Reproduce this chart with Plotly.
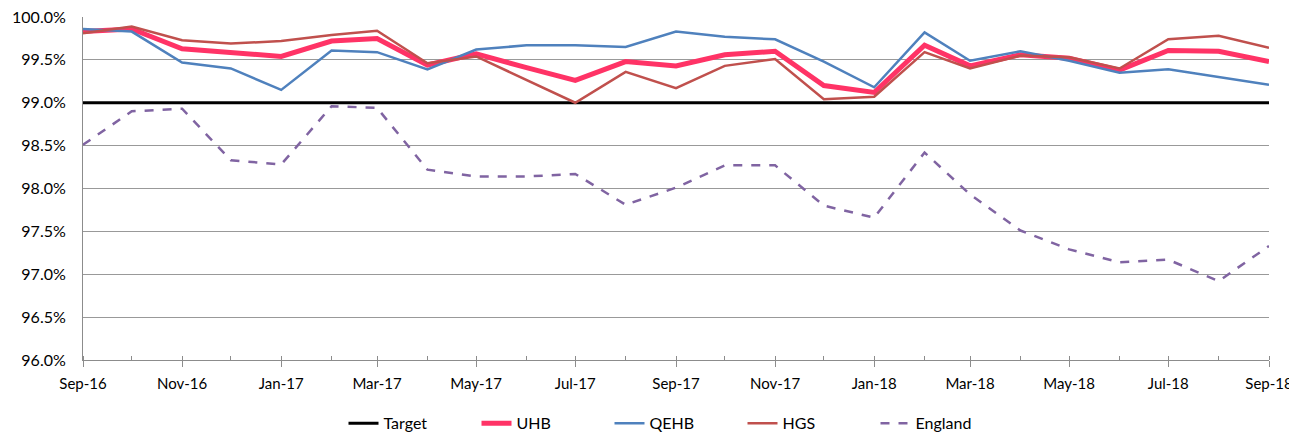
import plotly.graph_objects as go
import pandas as pd

months = ["Sep-16", "Oct-16", "Nov-16", "Dec-16", "Jan-17", "Feb-17", "Mar-17", "Apr-17",
          "May-17", "Jun-17", "Jul-17", "Aug-17", "Sep-17", "Oct-17", "Nov-17", "Dec-17",
          "Jan-18", "Feb-18", "Mar-18", "Apr-18", "May-18", "Jun-18", "Jul-18", "Aug-18", "Sep-18"]

target = [99.0] * len(months)
uhb = [99.83, 99.86, 99.63, 99.59, 99.54, 99.72, 99.75, 99.44, 99.57, 99.41, 99.26, 99.48,
       99.43, 99.56, 99.60, 99.20, 99.12, 99.67, 99.43, 99.56, 99.52, 99.38, 99.61, 99.60, 99.48]
qehb = [99.86, 99.83, 99.47, 99.40, 99.15, 99.61, 99.59, 99.39, 99.62, 99.67, 99.67, 99.65,
        99.83, 99.77, 99.74, 99.48, 99.18, 99.82, 99.49, 99.60, 99.49, 99.35, 99.39, 99.30, 99.21]
hgs = [99.81, 99.89, 99.73, 99.69, 99.72, 99.79, 99.84, 99.46, 99.54, 99.27, 99.00, 99.36,
       99.17, 99.43, 99.51, 99.04, 99.07, 99.59, 99.40, 99.55, 99.53, 99.40, 99.74, 99.78, 99.64]
england = [98.51, 98.90, 98.93, 98.33, 98.28, 98.96, 98.94, 98.22, 98.14, 98.14, 98.17, 97.81,
           98.01, 98.27, 98.27, 97.80, 97.66, 98.42, 97.93, 97.51, 97.29, 97.14, 97.17, 96.92, 97.33]

x = pd.to_datetime(months, format="%b-%y")

FONT = "Lato, 'Liberation Sans', sans-serif"

fig = go.Figure()
fig.add_trace(go.Scatter(x=x, y=target, name="Target", mode="lines",
                         line=dict(color="#000000", width=3)))
fig.add_trace(go.Scatter(x=x, y=uhb, name="UHB", mode="lines",
                         line=dict(color="#FF3366", width=5)))
fig.add_trace(go.Scatter(x=x, y=qehb, name="QEHB", mode="lines",
                         line=dict(color="#4F81BD", width=2.5)))
fig.add_trace(go.Scatter(x=x, y=hgs, name="HGS", mode="lines",
                         line=dict(color="#C0504D", width=2.5)))
fig.add_trace(go.Scatter(x=x, y=england, name="England", mode="lines",
                         line=dict(color="#8064A2", width=2.5, dash="dash")))

fig.update_layout(
    width=1289, height=427,
    margin=dict(l=75, r=28, t=9, b=75, autoexpand=False),
    paper_bgcolor="white", plot_bgcolor="white",
    font=dict(family=FONT, size=16, color="#000000"),
    showlegend=True,
    legend=dict(orientation="h", x=0.5, xanchor="center", y=-0.135, yanchor="top",
                font=dict(size=16), entrywidth=88, entrywidthmode="pixels",
                tracegroupgap=0),
    xaxis=dict(
        range=[x[0], x[-1]], automargin=False, ticklabeloverflow="allow",
        tickmode="linear", tick0=x[0], dtick="M2", tickformat="%b-%y",
        ticks="outside", ticklen=6, tickcolor="#8c8c8c", tickwidth=1,
        ticklabelstandoff=4,
        minor=dict(dtick="M1", ticks="inside", ticklen=4, tickcolor="#8c8c8c", showgrid=False),
        showline=True, linecolor="#8c8c8c", linewidth=1,
        showgrid=False, zeroline=False,
        tickfont=dict(size=15),
    ),
    yaxis=dict(
        range=[96, 100], dtick=0.5, tick0=96, automargin=False, ticklabeloverflow="allow",
        tickformat=".1f", ticksuffix="%", ticklabelstandoff=13,
        showgrid=True, gridcolor="#999999", gridwidth=1,
        showline=True, linecolor="#8c8c8c", linewidth=1,
        zeroline=False, ticks="", tickfont=dict(size=16),
    ),
)

fig.write_html("out.html")
